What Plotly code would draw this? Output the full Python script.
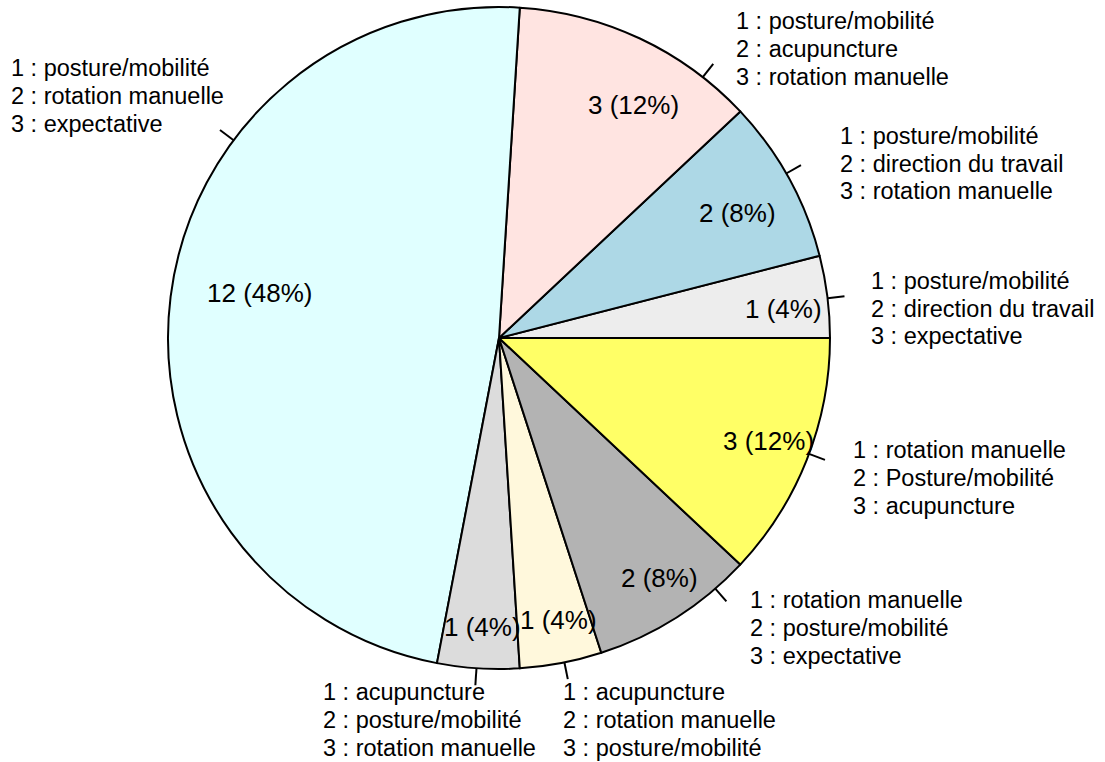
import math
import plotly.graph_objects as go

# ---- data ----
counts = [1, 2, 3, 12, 1, 1, 2, 3]
inner_labels = ["1 (4%)", "2 (8%)", "3 (12%)", "12 (48%)", "1 (4%)", "1 (4%)", "2 (8%)", "3 (12%)"]
outer_labels = [
    ["1 : posture/mobilité", "2 : direction du travail", "3 : expectative"],
    ["1 : posture/mobilité", "2 : direction du travail", "3 : rotation manuelle"],
    ["1 : posture/mobilité", "2 : acupuncture", "3 : rotation manuelle"],
    ["1 : posture/mobilité", "2 : rotation manuelle", "3 : expectative"],
    ["1 : acupuncture", "2 : posture/mobilité", "3 : rotation manuelle"],
    ["1 : acupuncture", "2 : rotation manuelle", "3 : posture/mobilité"],
    ["1 : rotation manuelle", "2 : posture/mobilité", "3 : expectative"],
    ["1 : rotation manuelle", "2 : Posture/mobilité", "3 : acupuncture"],
]
colors = ["#EDEDED", "#ADD8E6", "#FFE4E1", "#E0FFFF", "#DCDCDC", "#FFF8DC", "#B3B3B3", "#FFFF66"]

# ---- layout positions (angles in degrees, distances in pie-radius units) ----
leader_angle = [6.9, 29.8, 52.0, 143.3, 266.1, 281.4, 310.8, 339.5]
inner_pos = [(0.860, 0.088), (0.722, 0.378), (0.405, 0.704), (-0.722, 0.136),
             (-0.051, -0.873), (0.181, -0.852), (0.486, -0.725), (0.813, -0.311)]
outer_pos = [(1.117, 0.088), (1.024, 0.526), (0.711, 0.873), (-1.479, 0.731),
             (-0.537, -1.154), (0.188, -1.154), (0.753, -0.876), (1.064, -0.423)]

W, H = 1105, 762
CX, CY, R = 499, 338, 331  # pixels, y from top
LINE_H = 27.6
FONT = "Liberation Sans, Arial, sans-serif"


def px(x):
    return x / W


def py(y):
    return 1 - y / H


# Plotly puts the first slice clockwise of `rotation` when direction is
# counterclockwise; shift so the first slice starts at 3 o'clock (R style).
first_share = 360.0 * counts[0] / sum(counts)

fig = go.Figure(go.Pie(
    values=counts,
    sort=False,
    direction="counterclockwise",
    rotation=90 - first_share,
    marker=dict(colors=colors, line=dict(color="black", width=2)),
    textinfo="none",
    hoverinfo="skip",
    showlegend=False,
    domain=dict(x=[px(CX - R), px(CX + R)], y=[py(CY + R), py(CY - R)]),
))

annotations = []
shapes = []
for i in range(len(counts)):
    # inside label
    ix, iy = inner_pos[i]
    annotations.append(dict(
        x=px(CX + ix * R), y=py(CY - iy * R), xref="paper", yref="paper",
        text=inner_labels[i], showarrow=False, xanchor="center", yanchor="middle",
        font=dict(family=FONT, size=26, color="black"),
    ))
    # leader line
    th = math.radians(leader_angle[i])
    x0, y0 = CX + R * math.cos(th), CY - R * math.sin(th)
    x1, y1 = CX + (R + 17) * math.cos(th), CY - (R + 17) * math.sin(th)
    shapes.append(dict(type="line", xref="paper", yref="paper",
                       x0=px(x0), y0=py(y0), x1=px(x1), y1=py(y1),
                       line=dict(color="black", width=2)))
    # outside label, one annotation per line
    ox, oy = outer_pos[i]
    lx = CX + ox * R
    ly = CY - oy * R
    for k, line in enumerate(outer_labels[i]):
        annotations.append(dict(
            x=px(lx), y=py(ly + (k - 1) * LINE_H), xref="paper", yref="paper",
            text=line, showarrow=False, xanchor="left", yanchor="middle",
            font=dict(family=FONT, size=23.5, color="black"),
        ))

fig.update_layout(
    width=W, height=H,
    margin=dict(l=0, r=0, t=0, b=0),
    paper_bgcolor="white", plot_bgcolor="white",
    annotations=annotations, shapes=shapes,
    font=dict(family=FONT),
)
fig.write_html(
    "out.html",
    config={"displayModeBar": False},
    post_script="document.body.style.margin='0';document.body.style.overflow='hidden';",
)
